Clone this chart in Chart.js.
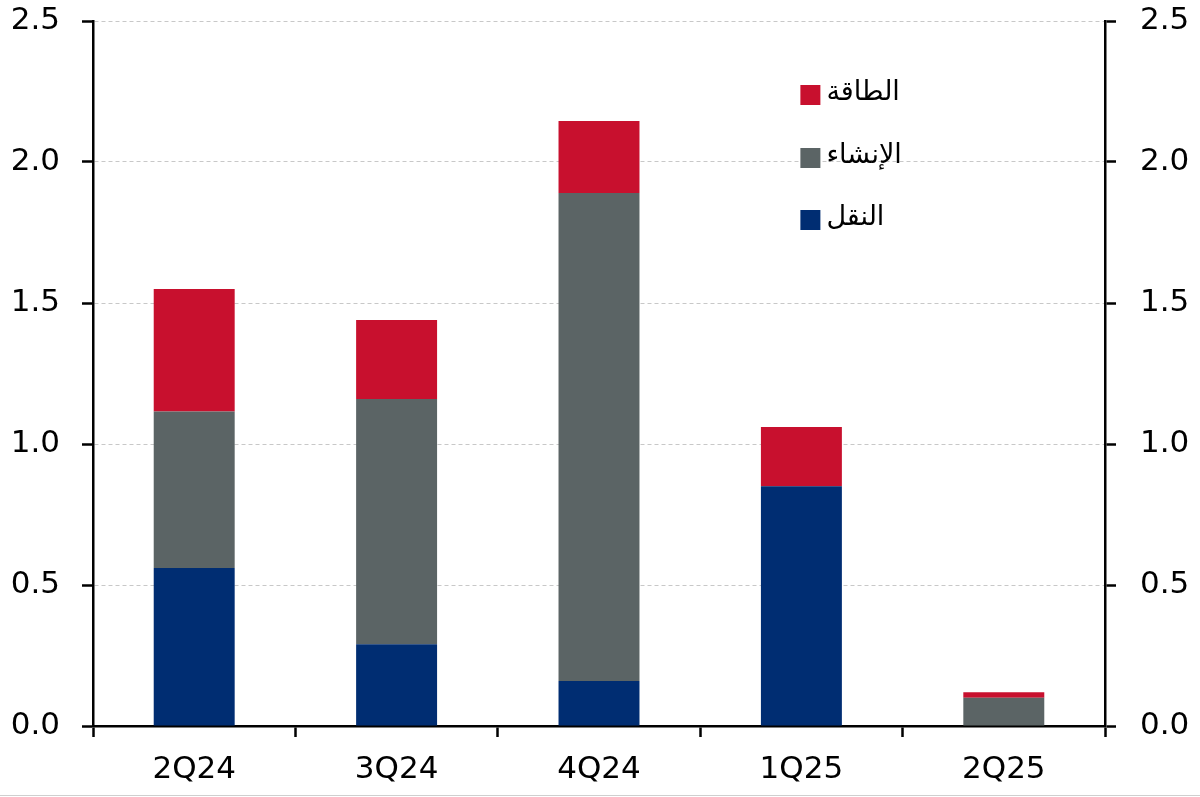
<!DOCTYPE html>
<html>
<head>
<meta charset="utf-8">
<script src="https://cdn.jsdelivr.net/npm/chart.js@4.4.0/dist/chart.umd.min.js"></script>
<style>
    html, body { margin: 0; padding: 0; background: #fff; }
    #wrap { width: 1200px; height: 797px; position: relative; }
</style>
</head>
<body>
<div id="wrap"><canvas id="stack-chart" width="1200" height="797"></canvas></div>
<script>
const quarters = ['2Q24', '3Q24', '4Q24', '1Q25', '2Q25'];
const transport = [0.56, 0.29, 0.16, 0.85, 0];
const construction = [0.555, 0.87, 1.73, 0, 0.10];
const energy = [0.435, 0.28, 0.255, 0.21, 0.02];
const yTicks = [0, 0.5, 1.0, 1.5, 2.0, 2.5];

const seriesNames = ['النقل', 'الإنشاء', 'الطاقة'];
const seriesColors = ['#002D72', '#5B6465', '#C8102E'];

const tickFont = { family: '"DejaVu Sans", sans-serif', size: 31 };

// legend drawn inside the plot, top item = top of stack
const insideLegend = {
    id: 'insideLegend',
    afterDraw(chart) {
        const ctx = chart.ctx;
        const area = chart.chartArea;
        const x = area.left + (area.right - area.left) * 0.699;
        const rows = [{ i: 2, y: 95 }, { i: 1, y: 158 }, { i: 0, y: 220 }];
        ctx.save();
        rows.forEach(r => {
            ctx.fillStyle = seriesColors[r.i];
            ctx.fillRect(x, r.y - 10, 20, 20);
            ctx.fillStyle = '#000';
            ctx.font = '27px "DejaVu Sans", sans-serif';
            ctx.textAlign = 'left';
            ctx.textBaseline = 'middle';
            ctx.fillText(seriesNames[r.i], x + 26, r.y - 2);
        });
        // thin frame line at the very bottom
        ctx.strokeStyle = '#cfcfcf';
        ctx.lineWidth = 1;
        ctx.beginPath();
        ctx.moveTo(0, 795.5);
        ctx.lineTo(1200, 795.5);
        ctx.stroke();
        ctx.restore();
    }
};

const yScale = (position) => ({
    type: 'linear',
    position: position,
    min: 0,
    max: 2.5,
    stacked: position === 'left',
    afterBuildTicks: axis => { axis.ticks = yTicks.map(v => ({ value: v })); },
    afterFit: axis => {
        axis.width = position === 'left' ? 93 : 95;
        axis.paddingTop = 0;
        axis.paddingBottom = 0;
    },
    ticks: {
        color: '#000',
        font: tickFont,
        padding: position === 'left' ? 22 : 24,
        callback: v => v.toFixed(1)
    },
    grid: {
        display: true,
        drawOnChartArea: position === 'left',
        color: '#c8c8c8',
        lineWidth: 1,
        tickColor: '#000',
        tickWidth: 2.5,
        tickLength: 11,
        tickBorderDash: []
    },
    // in v4 border.dash sets the dash of the grid lines, the axis line stays solid
    border: { display: true, color: '#000', width: 2.5, dash: [4, 3] }
});

const chartConfig = {
    type: 'bar',
    data: {
        labels: quarters,
        datasets: [
            { label: seriesNames[0], data: transport, backgroundColor: seriesColors[0] },
            { label: seriesNames[1], data: construction, backgroundColor: seriesColors[1] },
            { label: seriesNames[2], data: energy, backgroundColor: seriesColors[2] }
        ]
    },
    options: {
        responsive: false,
        animation: false,
        devicePixelRatio: 1,
        layout: { padding: { top: 21, bottom: 0, left: 0, right: 0 } },
        datasets: {
            bar: { categoryPercentage: 1, barPercentage: 0.4, borderWidth: 0 }
        },
        plugins: {
            legend: { display: false },
            tooltip: { enabled: false }
        },
        scales: {
            x: {
                stacked: true,
                afterFit: axis => {
                    axis.height = 71;
                    axis.paddingLeft = 0;
                    axis.paddingRight = 0;
                },
                ticks: { color: '#000', font: tickFont, padding: 14 },
                grid: {
                    offset: true,
                    drawOnChartArea: false,
                    tickColor: '#000',
                    tickWidth: 2.5,
                    tickLength: 11
                },
                border: { display: true, color: '#000', width: 2.5 }
            },
            y: yScale('left'),
            y2: yScale('right')
        }
    },
    plugins: [insideLegend]
};

new Chart(document.getElementById('stack-chart'), chartConfig);
</script>
</body>
</html>
